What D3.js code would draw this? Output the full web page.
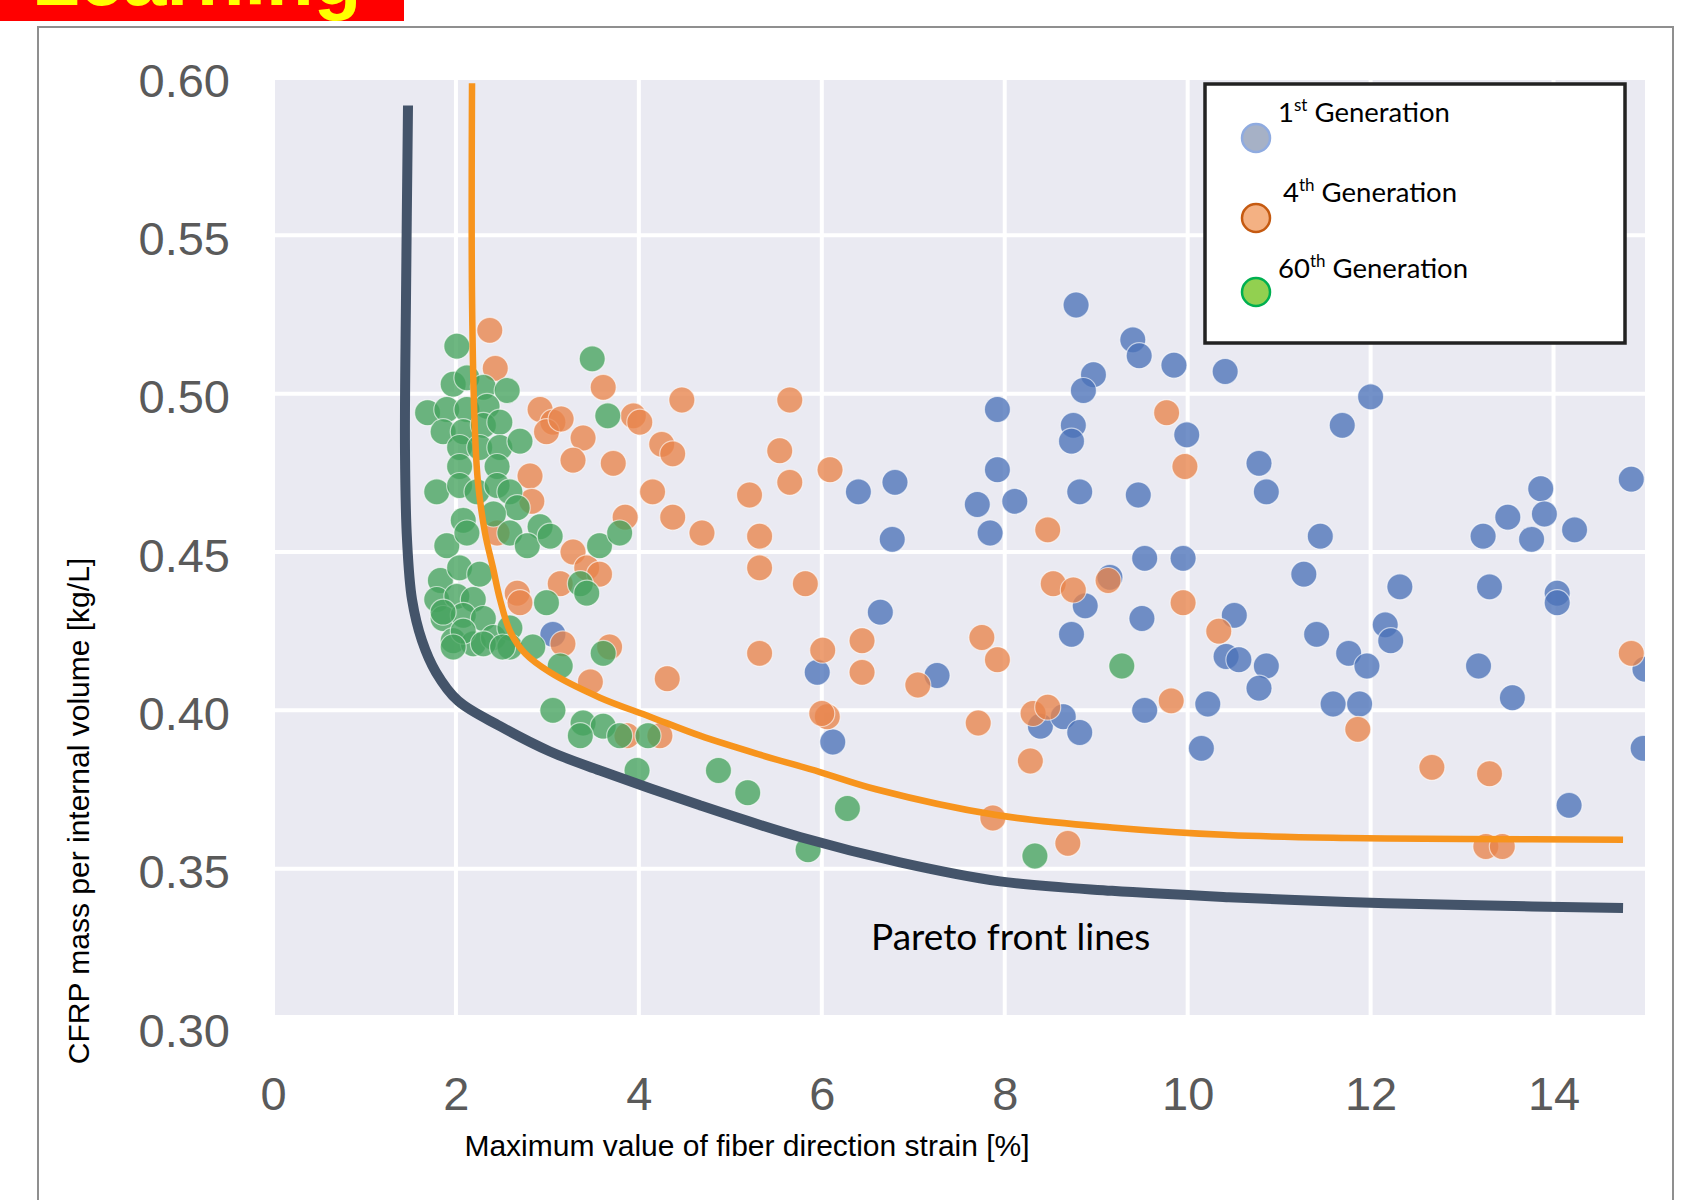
<!DOCTYPE html>
<html>
<head>
<meta charset="utf-8">
<script src="https://cdn.jsdelivr.net/npm/d3@7"></script>
<style>
  body { margin: 0; background: #fff; }
</style>
</head>
<body>
<script>

// PAGE SIZE
//
var width = 1691;
var height = 1200;

// AXES
//
var xTicks = [0, 2, 4, 6, 8, 10, 12, 14];
var yTicks = [0.30, 0.35, 0.40, 0.45, 0.50, 0.55, 0.60];
var xGrid = [2, 4, 6, 8, 10, 12, 14];
var yGrid = [0.35, 0.40, 0.45, 0.50, 0.55];

var xLabel = "Maximum value of fiber direction strain [%]";
var yLabel = "CFRP mass per internal volume [kg/L]";

// 1ST GENERATION [strain %, mass kg/L]
//
var gen1 = [
  [8.78,0.528],[9.40,0.517],[9.47,0.512],[9.85,0.509],[10.41,0.507],[8.97,0.506],[8.86,0.501],
  [12.0,0.499],[7.92,0.495],[11.69,0.490],[8.75,0.490],[8.73,0.485],[9.99,0.487],[7.92,0.476],
  [10.78,0.478],[10.86,0.469],[8.82,0.469],[9.46,0.468],[6.40,0.469],[6.80,0.472],[7.70,0.465],
  [8.11,0.466],[7.84,0.456],[6.77,0.454],[11.45,0.455],[14.85,0.473],[13.86,0.470],[13.50,0.461],
  [13.90,0.462],[13.23,0.455],[13.76,0.454],[14.23,0.457],[9.53,0.448],[9.95,0.448],[11.27,0.443],
  [12.32,0.439],[13.30,0.439],[14.04,0.437],[14.04,0.434],[9.15,0.442],[8.88,0.433],[9.50,0.429],
  [10.51,0.430],[6.64,0.431],[8.73,0.424],[11.41,0.424],[12.16,0.427],[12.22,0.422],[10.42,0.417],
  [10.56,0.416],[10.86,0.414],[10.78,0.407],[11.76,0.418],[11.96,0.414],[13.18,0.414],[15.0,0.413],
  [5.95,0.412],[7.26,0.411],[9.53,0.400],[10.22,0.402],[11.59,0.402],[11.88,0.402],[13.55,0.404],
  [6.12,0.390],[8.39,0.395],[8.64,0.398],[8.82,0.393],[10.15,0.388],[14.98,0.388],[14.17,0.370],
  [3.06,0.424]
];

// 4TH GENERATION
//
var gen4 = [
  [2.37,0.520],[2.43,0.508],[3.61,0.502],[4.47,0.498],[2.92,0.495],[3.06,0.491],[2.99,0.488],
  [3.15,0.492],[3.94,0.493],[4.01,0.491],[3.39,0.486],[3.28,0.479],[3.72,0.478],[4.25,0.484],
  [4.37,0.481],[2.81,0.474],[4.15,0.469],[4.37,0.461],[4.69,0.456],[3.85,0.461],[2.83,0.466],
  [2.45,0.456],[3.28,0.450],[3.43,0.445],[3.57,0.443],[2.67,0.437],[3.14,0.440],[3.17,0.421],
  [3.68,0.420],[4.31,0.410],[3.47,0.409],[3.87,0.392],[4.23,0.392],[2.70,0.434],
  [5.65,0.498],[5.54,0.482],[5.65,0.472],[5.21,0.468],[6.09,0.476],[5.32,0.455],[5.32,0.445],
  [5.82,0.440],[5.32,0.418],[6.01,0.419],[6.44,0.422],[6.44,0.412],[7.05,0.408],[7.75,0.423],
  [7.92,0.416],[8.47,0.457],[8.53,0.440],[8.75,0.438],[9.13,0.441],[6.06,0.398],[6.00,0.399],
  [7.71,0.396],[8.31,0.399],[8.47,0.401],[8.28,0.384],[7.87,0.366],[8.69,0.358],
  [9.77,0.494],[9.97,0.477],[9.95,0.434],[10.34,0.425],[9.82,0.403],[11.86,0.394],[12.67,0.382],
  [13.30,0.380],[13.26,0.357],[13.44,0.357],[14.85,0.418]
];

// 60TH GENERATION
//
var gen60 = [
  [2.01,0.515],[3.49,0.511],[1.69,0.494],[1.97,0.503],[2.12,0.505],[2.30,0.502],[2.56,0.501],
  [1.90,0.495],[2.12,0.495],[2.34,0.496],[1.86,0.488],[2.08,0.488],[2.30,0.490],[2.48,0.491],
  [2.04,0.483],[2.26,0.483],[2.48,0.483],[2.70,0.485],[3.66,0.493],[2.04,0.477],[2.45,0.477],
  [1.79,0.469],[2.04,0.471],[2.23,0.469],[2.45,0.471],[2.59,0.469],[2.67,0.464],[2.08,0.460],
  [2.41,0.462],[1.90,0.452],[2.12,0.456],[2.59,0.456],[2.92,0.458],[2.78,0.452],[3.03,0.455],
  [3.57,0.452],[3.79,0.456],[1.83,0.441],[2.04,0.445],[2.26,0.443],[1.79,0.435],[2.01,0.436],
  [2.19,0.435],[1.86,0.429],[2.08,0.430],[2.30,0.429],[1.97,0.422],[2.19,0.421],[2.41,0.423],
  [2.99,0.434],[3.36,0.440],[3.43,0.437],[3.61,0.418],[2.59,0.426],[2.59,0.420],[2.84,0.420],
  [1.86,0.431],[2.08,0.425],[2.30,0.421],[2.51,0.420],[1.97,0.420],[3.14,0.414],[3.06,0.400],
  [3.39,0.396],[3.61,0.395],[3.36,0.392],[3.79,0.392],[4.10,0.392],[3.98,0.381],[4.87,0.381],
  [5.19,0.374],[6.28,0.369],[5.85,0.356],[8.33,0.354],[9.28,0.414]
];

// PARETO FRONT LINES (hand drawn in the original)
//
var paretoDark = [
  [1.476,0.591],[1.454,0.530],[1.443,0.482],[1.465,0.454],[1.520,0.435],[1.629,0.422],
  [1.782,0.412],[2.023,0.403],[2.482,0.395],[3.028,0.387],[3.575,0.381],[4.668,0.370],
  [5.761,0.360],[6.855,0.352],[7.948,0.346],[9.172,0.343],[10.45,0.341],[11.74,0.3395],
  [13.02,0.3385],[14.76,0.3376]
];
var paretoOrange = [
  [2.176,0.598],[2.176,0.530],[2.208,0.488],[2.241,0.472],[2.318,0.456],[2.405,0.445],
  [2.482,0.435],[2.591,0.425],[2.755,0.418],[3.028,0.412],[3.575,0.404],[4.122,0.398],
  [4.668,0.392],[5.324,0.386],[5.980,0.3805],[6.603,0.375],[7.893,0.367],[9.172,0.363],
  [10.45,0.3606],[11.74,0.3597],[13.02,0.3594],[14.76,0.3591]
];

// LEGEND
//
var legendItems = [
  { num: "1", sup: "st", fill: "#a6b1c6", stroke: "#8fabe0" },
  { num: "4", sup: "th", fill: "#f4b183", stroke: "#c55a11" },
  { num: "60", sup: "th", fill: "#92d050", stroke: "#00b050" }
];

var sansFont = "'Liberation Sans', Arial, sans-serif";
var legendFont = "Lato, 'Open Sans', sans-serif";

var svg = d3.select("body").append("svg")
  .attr("width", width)
  .attr("height", height);

var x = d3.scaleLinear().domain([0, 15]).range([273, 1645]);
var y = d3.scaleLinear().domain([0.30, 0.60]).range([1027, 77]);

var plotLeft = 275, plotRight = 1645, plotTop = 80, plotBottom = 1015;

// BANNER AND FRAME
//
svg.append("clipPath").attr("id", "bannerClip")
  .append("rect").attr("x", 0).attr("y", 0).attr("width", 404).attr("height", 21);

svg.append("rect")
  .attr("x", 0).attr("y", 0).attr("width", 404).attr("height", 21)
  .attr("fill", "#ff0000");

svg.append("text")
  .attr("clip-path", "url(#bannerClip)")
  .attr("x", 32).attr("y", 5)
  .attr("font-family", sansFont)
  .attr("font-weight", "bold")
  .attr("font-size", 78)
  .attr("fill", "#ffff00")
  .text("Learning");

svg.append("rect")
  .attr("x", 38).attr("y", 27)
  .attr("width", 1635).attr("height", 1250)
  .attr("fill", "none")
  .attr("stroke", "#8f8f8f")
  .attr("stroke-width", 2);

// PLOT AREA
//
svg.append("rect")
  .attr("x", plotLeft).attr("y", plotTop)
  .attr("width", plotRight - plotLeft).attr("height", plotBottom - plotTop)
  .attr("fill", "#eaeaf2");

svg.append("clipPath").attr("id", "plotClip")
  .append("rect")
  .attr("x", plotLeft).attr("y", plotTop)
  .attr("width", plotRight - plotLeft).attr("height", plotBottom - plotTop);

var grid = svg.append("g");

grid.selectAll(".hgrid").data(yGrid).enter().append("line")
  .attr("class", "hgrid")
  .attr("x1", plotLeft).attr("x2", plotRight)
  .attr("y1", function(d) { return y(d); })
  .attr("y2", function(d) { return y(d); })
  .attr("stroke", "#ffffff")
  .attr("stroke-width", 4);

grid.selectAll(".vgrid").data(xGrid).enter().append("line")
  .attr("class", "vgrid")
  .attr("y1", plotTop).attr("y2", plotBottom)
  .attr("x1", function(d) { return x(d); })
  .attr("x2", function(d) { return x(d); })
  .attr("stroke", "#ffffff")
  .attr("stroke-width", 4);

// TICK LABELS
//
var yAxis = svg.append("g")
  .attr("transform", "translate(230,4)")
  .call(d3.axisLeft(y).tickValues(yTicks).tickSize(0).tickPadding(0).tickFormat(d3.format(".2f")));
yAxis.select(".domain").remove();
yAxis.selectAll("text")
  .attr("font-family", sansFont)
  .attr("font-size", 47)
  .attr("fill", "#5a5a5a");

var xAxis = svg.append("g")
  .attr("transform", "translate(0,1077)")
  .call(d3.axisBottom(x).tickValues(xTicks).tickSize(0).tickPadding(0).tickFormat(d3.format("d")));
xAxis.select(".domain").remove();
xAxis.selectAll("text")
  .attr("font-family", sansFont)
  .attr("font-size", 47)
  .attr("fill", "#5a5a5a");

// POINTS
//
function drawGeneration(data, color) {
  svg.append("g")
    .attr("clip-path", "url(#plotClip)")
    .selectAll("circle").data(data).enter().append("circle")
    .attr("cx", function(d) { return x(d[0]); })
    .attr("cy", function(d) { return y(d[1]); })
    .attr("r", 13)
    .attr("fill", color)
    .attr("fill-opacity", 0.78)
    .attr("stroke", "#ffffff")
    .attr("stroke-opacity", 0.6)
    .attr("stroke-width", 1.2);
}

drawGeneration(gen1, "#4c72b8");
drawGeneration(gen4, "#e8844c");
drawGeneration(gen60, "#45a35e");

// PARETO LINES
//
var line = d3.line()
  .x(function(d) { return x(d[0]); })
  .y(function(d) { return y(d[1]); })
  .curve(d3.curveCatmullRom.alpha(0.5));

svg.append("path")
  .attr("d", line(paretoDark))
  .attr("fill", "none")
  .attr("stroke", "#44546a")
  .attr("stroke-width", 10);

svg.append("path")
  .attr("d", line(paretoOrange))
  .attr("fill", "none")
  .attr("stroke", "#f7941d")
  .attr("stroke-width", 6.5);

svg.append("text")
  .attr("x", 871).attr("y", 950)
  .attr("font-family", legendFont)
  .attr("font-size", 37)
  .attr("fill", "#000")
  .text("Pareto front lines");

// LEGEND BOX
//
svg.append("rect")
  .attr("x", 1205).attr("y", 84)
  .attr("width", 420).attr("height", 259)
  .attr("fill", "#ffffff")
  .attr("stroke", "#222222")
  .attr("stroke-width", 3.5);

var legendRows = [
  { cy: 138, tx: 1278, ty: 122 },
  { cy: 218, tx: 1283, ty: 202 },
  { cy: 292, tx: 1278, ty: 278 }
];

legendItems.forEach(function(item, i) {
  var row = legendRows[i];
  svg.append("circle")
    .attr("cx", 1256).attr("cy", row.cy).attr("r", 14)
    .attr("fill", item.fill)
    .attr("stroke", item.stroke)
    .attr("stroke-width", 2.5);

  var t = svg.append("text")
    .attr("x", row.tx).attr("y", row.ty)
    .attr("font-family", legendFont)
    .attr("font-size", 27.5)
    .attr("fill", "#000");
  t.append("tspan").text(item.num);
  t.append("tspan").attr("font-size", 17).attr("dy", -11).text(item.sup);
  t.append("tspan").attr("dy", 11).text(" Generation");
});

// AXIS TITLES
//
svg.append("text")
  .attr("x", 747).attr("y", 1156)
  .attr("text-anchor", "middle")
  .attr("font-family", sansFont)
  .attr("font-size", 30)
  .attr("fill", "#000")
  .text(xLabel);

svg.append("text")
  .attr("transform", "translate(89,811) rotate(-90)")
  .attr("text-anchor", "middle")
  .attr("font-family", sansFont)
  .attr("font-size", 30)
  .attr("fill", "#000")
  .text(yLabel);

</script>
</body>
</html>
